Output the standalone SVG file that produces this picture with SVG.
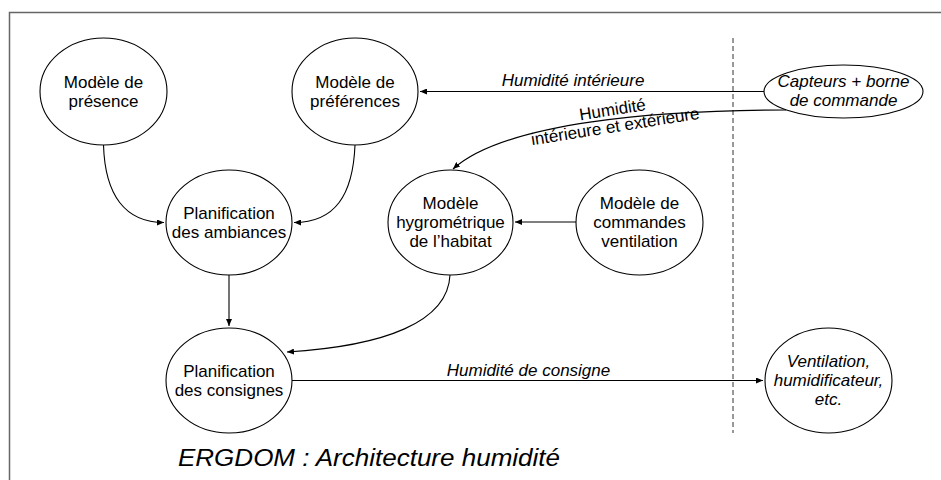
<svg xmlns="http://www.w3.org/2000/svg" width="941" height="480" viewBox="0 0 941 480">
<style>
.node ellipse{fill:#fff;stroke:#000;stroke-width:1.1}
.t{font-family:"Liberation Sans",Arial,sans-serif;font-size:17px;fill:#000;text-anchor:middle}
.it{font-style:italic}
.lbl{font-family:"Liberation Sans",Arial,sans-serif;font-size:17px;fill:#000;text-anchor:middle}
.edge{fill:none;stroke:#000;stroke-width:1.1;marker-end:url(#ah)}
</style>
<defs>
<marker id="ah" markerUnits="userSpaceOnUse" markerWidth="8" markerHeight="6" refX="7" refY="3" orient="auto">
<path d="M0,0 L7,3 L0,6 z" fill="#000"/>
</marker>
</defs>
<rect x="9.5" y="12.5" width="940" height="480" fill="#fff" stroke="#666" stroke-width="1.5"/>
<line x1="733" y1="38" x2="733" y2="433" stroke="#333" stroke-width="1" stroke-dasharray="5,3"/>

<g id="connectors">
<path class="edge" d="M764,91.5 L420,91.5"/>
<path class="edge" d="M786,110 C660,110 505,122 453,169"/>
<path class="edge" d="M103.5,145 C105,195 125,222.5 164,222.5"/>
<path class="edge" d="M355,145 C353,195 335,222.5 294,222.5"/>
<path class="edge" d="M229,275 L229,326"/>
<path class="edge" d="M576,222 L515,222"/>
<path class="edge" d="M450,275 C448,322 385,346 287,352"/>
<path class="edge" d="M292,380.5 L763,380.5"/>
<text class="lbl it" x="573" y="86">Humidité intérieure</text>
<g transform="translate(616,132) rotate(-9)">
<text class="lbl" x="0" y="-17">Humidité</text>
<text class="lbl" x="0" y="0">intérieure et extérieure</text>
</g>
<text class="lbl it" x="528.5" y="376">Humidité de consigne</text>
</g>

<g id="presence" class="node">
<ellipse cx="103.5" cy="91.5" rx="63.5" ry="53.5"/>
<text class="t" x="103.5" y="87.5">Modèle de</text>
<text class="t" x="103.5" y="106.5">présence</text>
</g>
<g id="preferences" class="node">
<ellipse cx="355" cy="91.5" rx="63" ry="53.5"/>
<text class="t" x="355" y="87.5">Modèle de</text>
<text class="t" x="355" y="106.5">préférences</text>
</g>
<g id="capteurs" class="node">
<ellipse cx="843.5" cy="91.5" rx="79.5" ry="26.5"/>
<text class="t it" x="843.5" y="87">Capteurs + borne</text>
<text class="t it" x="843.5" y="106">de commande</text>
</g>
<g id="ambiances" class="node">
<ellipse cx="229" cy="222.5" rx="63" ry="52.5"/>
<text class="t" x="229" y="218.5">Planification</text>
<text class="t" x="229" y="237.5">des ambiances</text>
</g>
<g id="hygrometrique" class="node">
<ellipse cx="450.5" cy="222.5" rx="62.5" ry="52.5"/>
<text class="t" x="450.5" y="209">Modèle</text>
<text class="t" x="450.5" y="228">hygrométrique</text>
<text class="t" x="450.5" y="247">de l’habitat</text>
</g>
<g id="commandes" class="node">
<ellipse cx="639.5" cy="222.5" rx="63.5" ry="52.5"/>
<text class="t" x="639.5" y="209">Modèle de</text>
<text class="t" x="639.5" y="228">commandes</text>
<text class="t" x="639.5" y="247">ventilation</text>
</g>
<g id="consignes" class="node">
<ellipse cx="229" cy="380.5" rx="63" ry="52.5"/>
<text class="t" x="229" y="376.5">Planification</text>
<text class="t" x="229" y="395.5">des consignes</text>
</g>
<g id="ventilation" class="node">
<ellipse cx="828.5" cy="380.5" rx="63.5" ry="52.5"/>
<text class="t it" x="828.5" y="367">Ventilation,</text>
<text class="t it" x="828.5" y="386">humidificateur,</text>
<text class="t it" x="828.5" y="405">etc.</text>
</g>

<text x="178" y="466" font-family="'Liberation Sans',Arial,sans-serif" font-size="23" font-style="italic" textLength="382" lengthAdjust="spacingAndGlyphs">ERGDOM : Architecture humidité</text>
</svg>
